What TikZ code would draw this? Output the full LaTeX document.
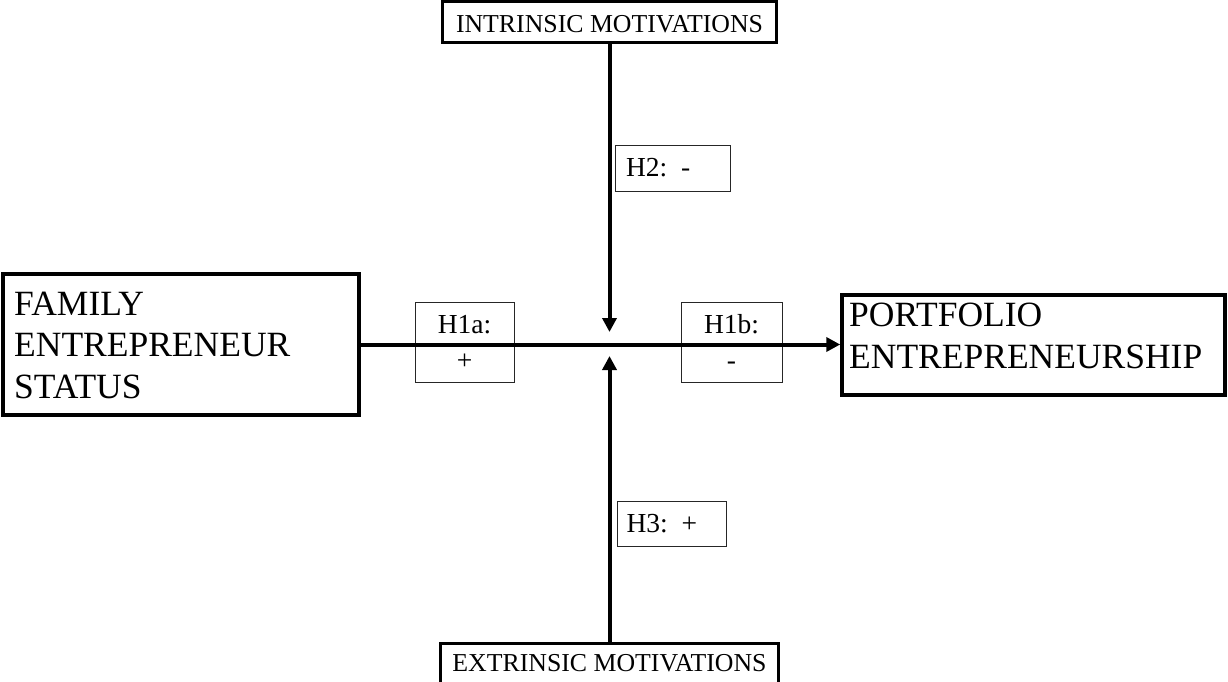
\documentclass[tikz,border=0pt]{standalone}
\usepackage{fontspec}
\setmainfont{Liberation Serif}
\usetikzlibrary{arrows.meta}
\begin{document}
\begin{tikzpicture}[x=1pt,y=-1pt,
  bigbox/.style={draw, line width=3.5pt, inner sep=0pt},
  motbox/.style={draw, line width=3pt, inner sep=0pt, font=\fontsize{25.8}{30}\selectfont},
  hbox/.style={draw=black!85, line width=1pt, inner sep=0pt, font=\fontsize{27.5}{36}\selectfont},
  bigtext/.style={inner sep=0pt, align=left, anchor=north west, font=\fontsize{35.5}{41.5}\selectfont},
  link/.style={line width=4pt, -{Triangle[length=14pt,width=14pt]}},
]
\useasboundingbox (0,0) rectangle (1228,682);
% main boxes
\node[bigbox, minimum width=356pt, minimum height=141pt] (fam) at (181,344.5) {};
\node[bigtext] (famtext) at (14,291.4) {FAMILY\\ENTREPRENEUR\\STATUS};
\node[bigbox, minimum width=383pt, minimum height=100pt] (port) at (1033.5,345) {};
\node[bigtext] (porttext) at (849,303) {PORTFOLIO\\ENTREPRENEURSHIP};
% moderators
\node[motbox, minimum width=334pt, minimum height=41pt, text height=21pt, text depth=0pt] (intr) at (609.5,22.5) {INTRINSIC MOTIVATIONS};
\node[motbox, minimum width=338pt, minimum height=41pt] (extr) at (609.5,663.5) {EXTRINSIC MOTIVATIONS};
% hypothesis labels
\node[hbox, minimum width=115pt, minimum height=46pt, text width=93pt, align=left] (h2) at (672.5,168) {H2: -};
\node[hbox, minimum width=109pt, minimum height=45pt, text width=90pt, align=left] (h3) at (671.5,523.5) {H3: +};
\node[hbox, minimum width=99pt, minimum height=80pt, align=center] (h1a) at (464.5,342) {H1a:\\+};
\node[hbox, minimum width=101pt, minimum height=80pt, align=center] (h1b) at (731.5,342) {H1b:\\-};
% connectors
\coordinate (tipdown) at (609.5,332);
\coordinate (tipup) at (609.5,356);
\draw[link] (fam.east |- 0,344.5) -- (port.west |- 0,344.5);
\draw[link] (intr.south) -- (tipdown);
\draw[link] (extr.north) -- (tipup);
\end{tikzpicture}
\end{document}
